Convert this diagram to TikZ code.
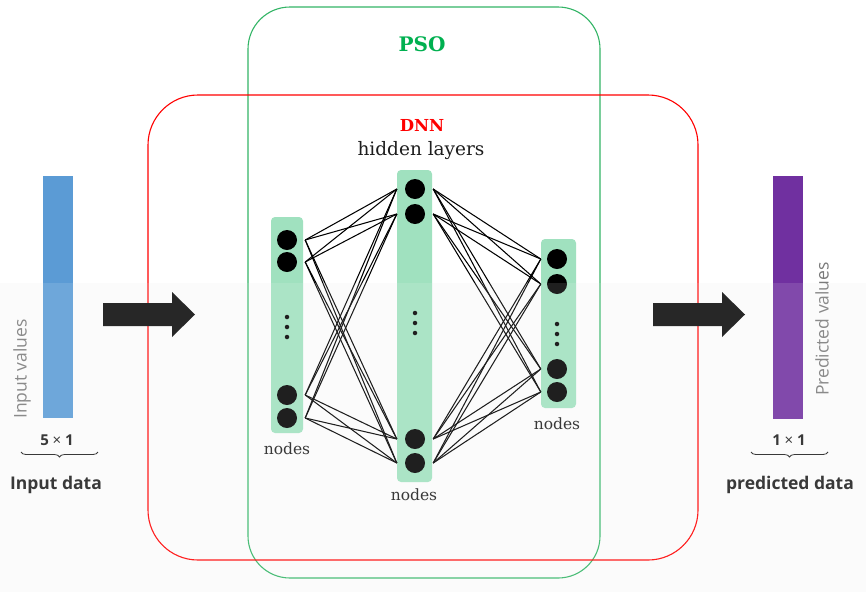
\documentclass[tikz,border=0pt]{standalone}
\usepackage{fontspec}
\setmainfont{DejaVu Serif}
\newfontfamily\uisans{Open Sans}
\usetikzlibrary{decorations.pathreplacing,calc}

\definecolor{psogreen}{HTML}{00B050}
\definecolor{psoline}{HTML}{33B566}
\definecolor{dnnred}{HTML}{FF0000}
\definecolor{layergreen}{HTML}{A0E1BF}
\definecolor{inblue}{HTML}{5B9BD5}
\definecolor{outpurple}{HTML}{7030A0}
\definecolor{arrowdark}{HTML}{0A0A0A}
\definecolor{labelgray}{HTML}{7A7A7A}
\definecolor{textdark}{HTML}{1E1E1E}

\begin{document}
\begin{tikzpicture}[x=1pt,y=-1pt,
  neuron/.style={circle,fill=black,minimum size=20pt,inner sep=0pt},
  ellipsisdot/.style={circle,fill=black,minimum size=4.5pt,inner sep=0pt},
  layerbar/.style={fill=layergreen,rounded corners=4pt,inner sep=0pt,minimum width=#1},
  link/.style={line width=1.05pt,black},
  databar/.style={inner sep=0pt,minimum width=30pt},
  bigarrow/.style={fill=arrowdark},
  sizebrace/.style={decorate,decoration={brace,mirror,amplitude=5pt},line width=0.8pt,textdark},
  sidelabel/.style={font=\uisans\fontsize{17.5}{20}\selectfont,text=labelgray,rotate=90},
  dimlabel/.style={font=\uisans\bfseries\fontsize{15}{17}\selectfont,text=textdark},
  datalabel/.style={font=\uisans\bfseries\fontsize{17.5}{20}\selectfont,text=textdark},
  nodeslabel/.style={font=\fontsize{15.5}{18}\selectfont,text=textdark},
]
% canvas and the faint lower band
\useasboundingbox (0,0) rectangle (866,592);
\fill[white] (0,0) rectangle (866,592);
\fill[black!1.5] (0,283) rectangle (866,592);

% PSO and DNN frames
\node[draw=psoline,line width=1.1pt,rounded corners=42pt,minimum width=352pt,minimum height=571pt,inner sep=0pt] (pso) at (424,292.5) {};
\node[draw=dnnred,line width=1.1pt,rounded corners=50pt,minimum width=550pt,minimum height=465pt,inner sep=0pt] (dnn) at (423,327.5) {};
\node[font=\bfseries\fontsize{20}{22}\selectfont,text=psogreen] (psotitle) at (422,44) {PSO};
\node[font=\bfseries\fontsize{16.5}{18}\selectfont,text=dnnred] (dnntitle) at (422,125) {DNN};
\node[font=\fontsize{18.5}{20}\selectfont,text=textdark] (hidden) at (421,151) {hidden layers};

% layer columns
\node[layerbar=32pt,minimum height=216pt] (col1) at (287,325) {};
\node[layerbar=35pt,minimum height=312pt] (col2) at (414.5,326) {};
\node[layerbar=35pt,minimum height=169pt] (col3) at (558.5,323.5) {};

% neurons
\foreach \n/\y in {1/240,2/262,3/395,4/418} \node[neuron] (a\n) at (287,\y) {};
\foreach \n/\y in {1/189,2/214,3/439,4/463} \node[neuron] (b\n) at (415,\y) {};
\foreach \n/\y in {1/259,2/284,3/369,4/392} \node[neuron] (c\n) at (557,\y) {};
\foreach \n/\y in {1/317,2/327,3/337} \node[ellipsisdot] (ad\n) at (287,\y) {};
\foreach \n/\y in {1/313,2/323,3/333} \node[ellipsisdot] (bd\n) at (415,\y) {};
\foreach \n/\y in {1/324,2/334,3/344} \node[ellipsisdot] (cd\n) at (557,\y) {};

% weights
\foreach \i in {1,...,4}
  \foreach \j in {1,...,4} {
    \draw[link] ([xshift=8pt]a\i.east) -- ([xshift=-8pt]b\j.west);
    \draw[link] ([xshift=8pt]b\i.east) -- ([xshift=-6pt]c\j.west);
  }

\node[nodeslabel] (n1) at (287,449) {nodes};
\node[nodeslabel] (n2) at (414,495) {nodes};
\node[nodeslabel] (n3) at (557,424) {nodes};

% input side
\node[databar,fill=inblue,minimum height=242pt] (inbar) at (58,297) {};
\node[sidelabel] (invals) at (22,369) {Input values};
\coordinate (inbl) at (21,452);
\coordinate (inbr) at (98,452);
\draw[sizebrace] (inbl) -- (inbr);
\node[dimlabel] (indim) at (57,440) {5 {\mdseries×} 1};
\node[datalabel] (indata) at (56,485) {Input data};
\fill[bigarrow] (103,303) -- (172,303) -- (172,292) -- (195,314.5) -- (172,337) -- (172,326) -- (103,326) -- cycle;

% output side
\node[databar,fill=outpurple,minimum height=243pt] (outbar) at (788,297.5) {};
\node[sidelabel] (outvals) at (822,329) {Predicted values};
\coordinate (outbl) at (751,452);
\coordinate (outbr) at (828,452);
\draw[sizebrace] (outbl) -- (outbr);
\node[dimlabel] (outdim) at (789,440) {1 {\mdseries×} 1};
\node[datalabel] (outdata) at (790,485) {predicted data};
\fill[bigarrow] (653,303) -- (722,303) -- (722,292) -- (745,314.5) -- (722,337) -- (722,326) -- (653,326) -- cycle;

% light wash over the lower half
\fill[white,opacity=0.12] (0,283) rectangle (866,592);
\end{tikzpicture}
\end{document}
